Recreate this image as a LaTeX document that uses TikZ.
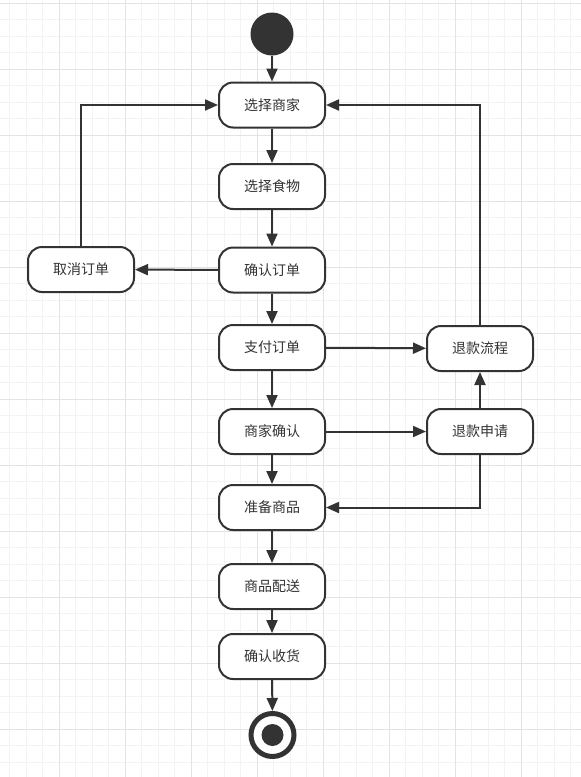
\documentclass[tikz,border=0pt]{standalone}
\usepackage{fontspec}
\setmainfont{Noto Sans CJK SC}
\usetikzlibrary{arrows.meta}
\definecolor{ink}{HTML}{333333}
\definecolor{gridminor}{HTML}{F3F3F3}
\definecolor{gridmajor}{HTML}{E3E3E3}
\tikzset{
  act/.style={draw=ink, line width=2pt, fill=white, rounded corners=14pt,
    minimum width=106pt, minimum height=45pt, text=ink,
    font=\fontsize{14}{16}\selectfont, inner sep=0pt},
  flow/.style={draw=ink, line width=2pt, -{Triangle[length=13pt,width=11pt]}},
  minorline/.style={draw=gridminor, line width=1pt},
  majorline/.style={draw=gridmajor, line width=1pt}
}
\begin{document}
\begin{tikzpicture}[x=1pt,y=-1pt]
\useasboundingbox (0,0) rectangle (581,777);
\fill[white] (0,0) rectangle (581,777);
% grid
\foreach \i in {0,...,35} \draw[minorline] ({9.5+16.5*\i},0) -- ({9.5+16.5*\i},777);
\foreach \i in {0,...,46} \draw[minorline] (0,{3+16.5*\i}) -- (581,{3+16.5*\i});
\foreach \i in {0,...,7} \draw[majorline] ({59+66*\i},0) -- ({59+66*\i},777);
\foreach \i in {0,...,11} \draw[majorline] (0,{3+66*\i}) -- (581,{3+66*\i});
% nodes
\node[circle, fill=ink, minimum size=43pt, inner sep=0pt] (start) at (272,34) {};
\node[act] (s1) at (272,105) {选择商家};
\node[act] (s2) at (272,186.5) {选择食物};
\node[act] (s3) at (272,270) {确认订单};
\node[act] (s4) at (272,347.5) {支付订单};
\node[act] (s5) at (272,431.5) {商家确认};
\node[act] (s6) at (272,507.5) {准备商品};
\node[act] (s7) at (272,586.5) {商品配送};
\node[act] (s8) at (272,656.5) {确认收货};
\node[act] (cancel) at (81,269.5) {取消订单};
\node[act] (rp) at (480,348.5) {退款流程};
\node[act] (ra) at (480,431.5) {退款申请};
\node[circle, draw=ink, line width=5pt, fill=white, minimum size=43pt, inner sep=0pt] (end) at (272.5,735) {};
\node[circle, fill=ink, minimum size=22pt, inner sep=0pt] (endin) at (end.center) {};
% edges
\draw[flow] (start) -- (s1);
\draw[flow] (s1) -- (s2);
\draw[flow] (s2) -- (s3);
\draw[flow] (s3) -- (s4);
\draw[flow] (s4) -- (s5);
\draw[flow] (s5) -- (s6);
\draw[flow] (s6) -- (s7);
\draw[flow] (s7) -- (s8);
\draw[flow] (s8) -- (end);
\draw[flow] (s3) -- (cancel);
\draw[flow] (cancel.north) |- (s1.west);
\draw[flow] (s4) -- (rp);
\draw[flow] (s5) -- (ra);
\draw[flow] (ra) -- (rp);
\draw[flow] (ra.south) |- (s6.east);
\draw[flow] (rp.north) |- (s1.east);
\end{tikzpicture}
\end{document}
